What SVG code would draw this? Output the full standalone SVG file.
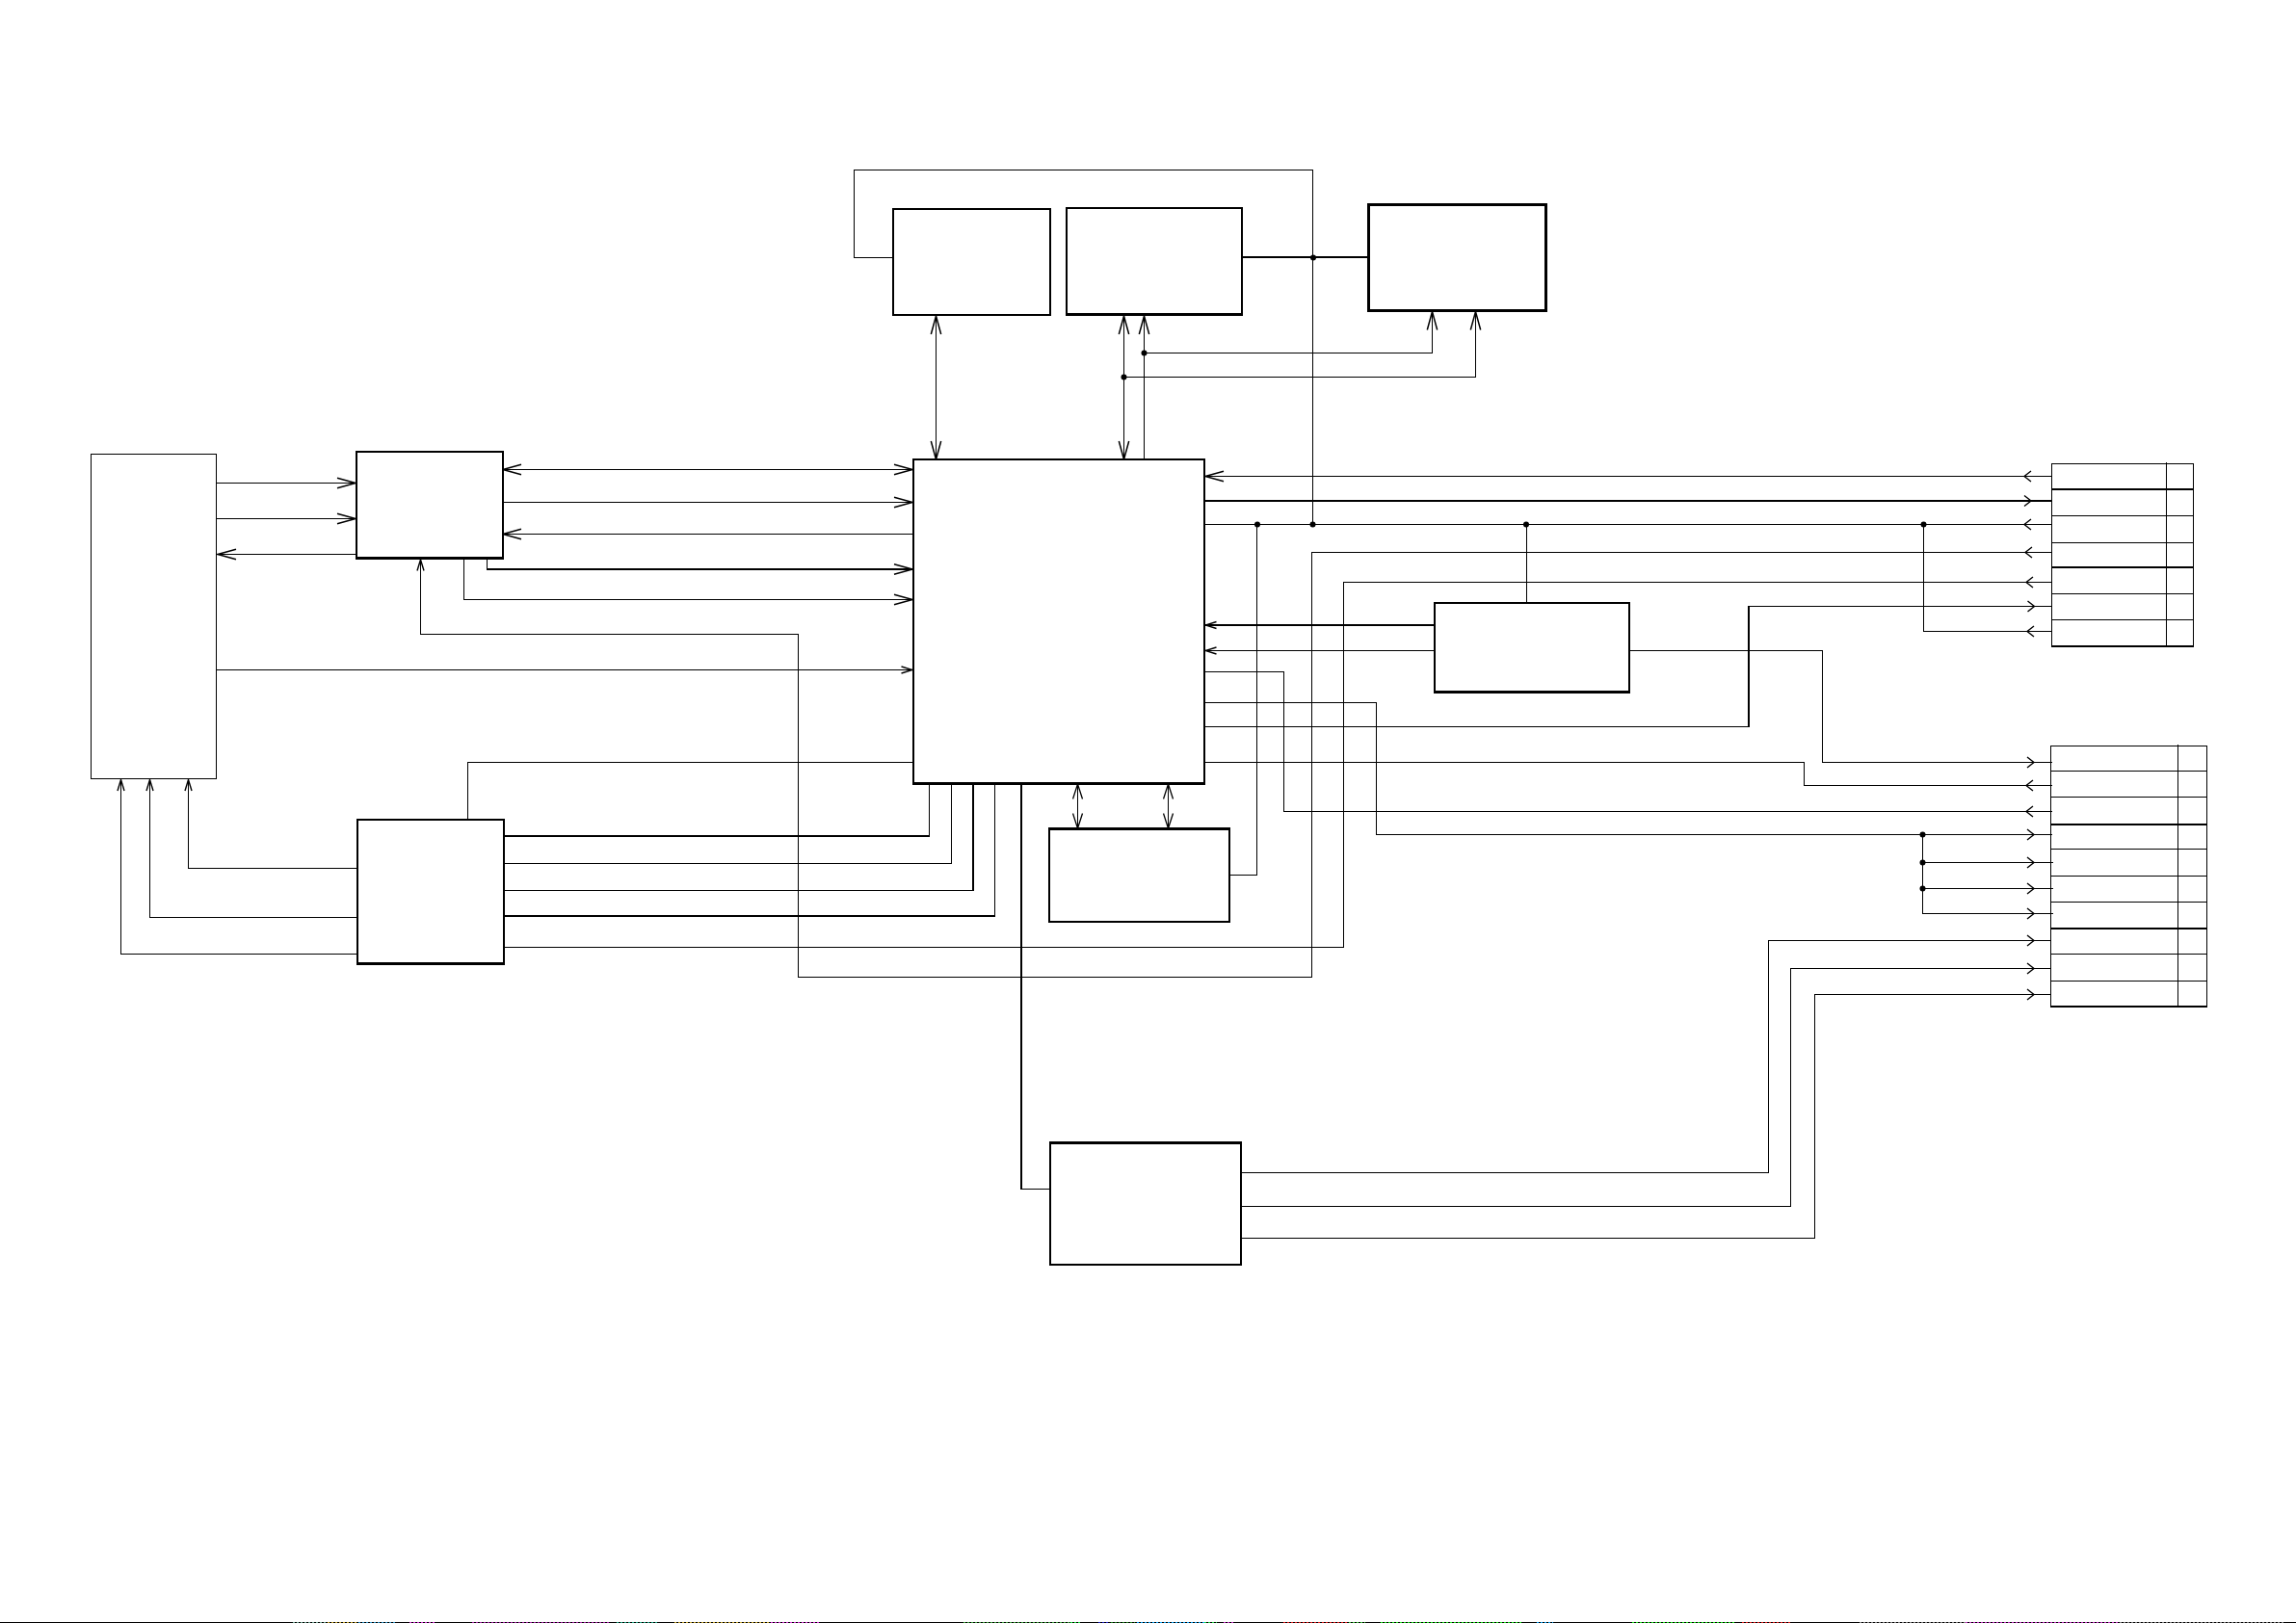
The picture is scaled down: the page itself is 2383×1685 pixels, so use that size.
<svg xmlns="http://www.w3.org/2000/svg" width="2383" height="1685" viewBox="0 0 2383 1685">
<style>
.box{fill:#fff;stroke:#000;stroke-width:2;shape-rendering:crispEdges}
.heavy{fill:#fff;stroke:#000;stroke-width:3;shape-rendering:crispEdges}
.thin{fill:#fff;stroke:#000;stroke-width:1;shape-rendering:crispEdges}
.edge{fill:none;stroke:#000;stroke-width:3;shape-rendering:crispEdges}
.row{fill:none;stroke:#000;stroke-width:1;shape-rendering:crispEdges}
.rowt{fill:none;stroke:#000;stroke-width:2;shape-rendering:crispEdges}
.c{fill:none;stroke:#000;stroke-width:1;shape-rendering:crispEdges}
.t{fill:none;stroke:#000;stroke-width:2;shape-rendering:crispEdges}
.h{fill:none;stroke:#000;stroke-width:1.4}
.d{fill:#000}
.L{marker-end:url(#big)}
.S{marker-end:url(#small)}
.B{marker-start:url(#big);marker-end:url(#big)}
.D{marker-start:url(#mid);marker-end:url(#mid)}
.strip{fill:none;stroke-width:1;stroke-dasharray:2 2;shape-rendering:crispEdges}
</style>
<defs>
<marker id="big" markerUnits="userSpaceOnUse" markerWidth="22" markerHeight="14" refX="20" refY="7" orient="auto-start-reverse"><path d="M1 1.8L20 7L1 12.2" fill="none" stroke="#000" stroke-width="1.5"/></marker>
<marker id="small" markerUnits="userSpaceOnUse" markerWidth="15" markerHeight="10" refX="13" refY="5" orient="auto-start-reverse"><path d="M1.5 1.5L13 5L1.5 8.5" fill="none" stroke="#000" stroke-width="1.4"/></marker>
<marker id="mid" markerUnits="userSpaceOnUse" markerWidth="19" markerHeight="12" refX="17" refY="6" orient="auto-start-reverse"><path d="M1.5 1L17 6L1.5 11" fill="none" stroke="#000" stroke-width="1.3"/></marker>
<path id="hl" class="h" d="M7 -5.5L0 0L7 5.5"/>
<path id="hr" class="h" d="M-7 -5.5L0 0L-7 5.5"/>
</defs>
<rect width="2383" height="1685" fill="#fff"/>

<g id="connectors">
<path class="c L" d="M225 501.5H369"/>
<path class="c L" d="M225 538.5H369"/>
<path class="c L" d="M370 575.5H226"/>
<path class="c S" d="M225 695.5H947"/>
<path class="c B" d="M522 487.5H947"/>
<path class="c L" d="M522 521.5H947"/>
<path class="c L" d="M947 554.5H522"/>
<path class="c" d="M505.5 580V591"/>
<path class="t L" d="M505 591H947"/>
<path class="c L" d="M481.5 580V622.5H947"/>
<path class="c S" d="M2130 573.5H1361.5V1014.5H828.5V658.5H436.5V581"/>
<path class="c" d="M948 791.5H485.5V851"/>
<path class="t" d="M523 868H965"/><path class="c" d="M964.5 868V813"/>
<path class="c" d="M523 896.5H987.5V813"/>
<path class="c" d="M523 924.5H1010"/><path class="t" d="M1010 925V813"/>
<path class="t" d="M523 951H1033"/><path class="c" d="M1032.5 951V813"/>
<path class="c" d="M523 983.5H1394.5V604.5H2130"/>
<path class="c S" d="M371 901.5H195.5V809.5"/>
<path class="c S" d="M371 952.5H155.5V809.5"/>
<path class="c S" d="M371 990.5H125.5V809.5"/>
<path class="c" d="M927 267.5H886.5V176.5H1362.5V544.5"/>
<path class="t" d="M1289 267H1420"/>
<path class="c B" d="M971.5 328V477"/>
<path class="c B" d="M1166.5 328V477"/>
<path class="c L" d="M1187.5 477V328"/>
<path class="c L" d="M1187.5 366.5H1486.5V323.5"/>
<path class="c L" d="M1166.5 391.5H1531.5V323.5"/>
<path class="c L" d="M2130 494.5H1251"/>
<path class="t" d="M1250 520H2130"/>
<path class="c" d="M1250 544.5H2130"/>
<path class="c" d="M1584.5 544.5V626"/>
<path class="c" d="M1996.5 544.5V655.5H2130"/>
<path class="c" d="M1304.5 544.5V908.5H1276"/>
<path class="t S" d="M1489 649H1251"/>
<path class="c S" d="M1489 675.5H1251"/>
<path class="c" d="M1691 675.5H1891.5V791.5H2130"/>
<path class="c" d="M1250 754.5H1815"/><path class="t" d="M1815 755V629"/><path class="c" d="M1815 629.5H2130"/>
<path class="c" d="M1250 697.5H1332.5V842.5H2130"/>
<path class="c" d="M1250 729.5H1428.5V866.5H2130"/>
<path class="c" d="M1250 791.5H1872.5V815.5H2130"/>
<path class="c" d="M1995.5 866.5V948.5H2131"/>
<path class="c" d="M1995.5 895.5H2131"/>
<path class="c" d="M1995.5 922.5H2131"/>
<path class="t" d="M1060 813V1235"/><path class="c" d="M1060 1234.5H1090"/>
<path class="c D" d="M1118.5 814V860"/>
<path class="c D" d="M1212.5 814V860"/>
<path class="c" d="M1288.5 1217.5H1835.5V976.5H2129"/>
<path class="c" d="M1288.5 1252.5H1858.5V1005.5H2129"/>
<path class="c" d="M1288.5 1285.5H1883.5V1032.5H2129"/>
<g id="line-heads">
<use href="#hl" x="2101" y="494.5"/><use href="#hr" x="2108" y="520"/><use href="#hl" x="2101" y="544.5"/><use href="#hl" x="2102" y="573.5"/><use href="#hl" x="2103" y="604.5"/><use href="#hr" x="2111.5" y="629.5"/><use href="#hl" x="2104" y="655.5"/>
<use href="#hr" x="2111" y="791.5"/><use href="#hl" x="2103" y="815.5"/><use href="#hl" x="2103" y="842.5"/><use href="#hr" x="2111" y="866.5"/><use href="#hr" x="2111" y="895.5"/><use href="#hr" x="2111" y="922.5"/><use href="#hr" x="2111" y="948.5"/><use href="#hr" x="2111" y="976.5"/><use href="#hr" x="2111" y="1005.5"/><use href="#hr" x="2111" y="1032.5"/>
</g>
<g id="junctions">
<circle class="d" cx="1363" cy="267.5" r="3"/><circle class="d" cx="1187.5" cy="366.5" r="3"/><circle class="d" cx="1166.5" cy="391.5" r="3"/>
<circle class="d" cx="1305" cy="544.5" r="3"/><circle class="d" cx="1362.5" cy="544.5" r="3"/><circle class="d" cx="1584" cy="544.5" r="3"/><circle class="d" cx="1996.5" cy="544.5" r="3"/>
<circle class="d" cx="1995.5" cy="866.5" r="3"/><circle class="d" cx="1995.5" cy="895.5" r="3"/><circle class="d" cx="1995.5" cy="922.5" r="3"/>
</g>
</g>

<g id="node-left"><rect class="thin" x="94.5" y="471.5" width="130" height="337"/></g>
<g id="node-b2"><rect class="box" x="370" y="469" width="152" height="110"/><path class="edge" d="M369 579.5H523"/></g>
<g id="node-b3"><rect class="box" x="371" y="851" width="152" height="149"/><path class="edge" d="M370 1000.5H524"/></g>
<g id="node-main"><rect class="box" x="948" y="477" width="302" height="336"/><path class="edge" d="M947 813.5H1251"/></g>
<g id="node-a"><rect class="box" x="927" y="217" width="163" height="110"/></g>
<g id="node-b"><rect class="box" x="1107" y="216" width="182" height="110"/><path class="edge" d="M1106 326.5H1290"/></g>
<g id="node-c"><rect class="heavy" x="1420" y="212" width="184" height="110"/></g>
<g id="node-d"><rect class="box" x="1089" y="860" width="187" height="97"/><path class="edge" d="M1088 860.5H1277"/></g>
<g id="node-e"><rect class="box" x="1489" y="626" width="202" height="92"/><path class="edge" d="M1488 718.5H1692"/></g>
<g id="node-f"><rect class="box" x="1090" y="1186" width="198" height="127"/><path class="edge" d="M1089 1186.5H1289"/></g>

<g id="node-conn1">
<rect class="row" x="2129.5" y="481.5" width="147" height="189.5"/>
<path class="row" d="M2248.5 480V671M2129.5 535.5H2277M2129.5 563.5H2277M2129.5 616.5H2277M2129.5 643.5H2277"/>
<path class="rowt" d="M2129 508H2277M2129 589H2277M2129 671H2277"/>
</g>
<g id="node-conn2">
<rect class="row" x="2128.5" y="774.5" width="162" height="270.5"/>
<path class="row" d="M2260.5 773V1045M2128.5 800.5H2290.5M2128.5 827.5H2290.5M2128.5 881.5H2290.5M2128.5 909.5H2290.5M2128.5 936.5H2290.5M2128.5 990.5H2290.5M2128.5 1018.5H2290.5"/>
<path class="rowt" d="M2128 856H2291M2128 964H2291M2128 1045H2291"/>
</g>

<g id="scan-strip">
<path d="M0 1684.5H2383" stroke="#000" stroke-width="1" fill="none" shape-rendering="crispEdges"/>
<path class="strip" stroke="#7a9" d="M304 1684.5H340"/>
<path class="strip" stroke="#ca3" d="M340 1684.5H372"/>
<path class="strip" stroke="#39c" d="M372 1684.5H410"/>
<path class="strip" stroke="#d3d" d="M425 1684.5H452"/>
<path class="strip" stroke="#a2a" d="M490 1684.5H632"/>
<path class="strip" stroke="#2a8" d="M640 1684.5H682"/>
<path class="strip" stroke="#ca3" d="M700 1684.5H800"/>
<path class="strip" stroke="#d3d" d="M800 1684.5H850"/>
<path class="strip" stroke="#4a4" d="M1000 1684.5H1110"/>
<path class="strip" stroke="#2e4" d="M1111 1684.5H1123"/>
<path class="strip" stroke="#22c" d="M1140 1684.5H1152"/>
<path class="strip" stroke="#282" d="M1153 1684.5H1178"/>
<path class="strip" stroke="#1af" d="M1180 1684.5H1250"/>
<path class="strip" stroke="#2d4" d="M1250 1684.5H1263"/>
<path class="strip" stroke="#c3c" d="M1270 1684.5H1282"/>
<path class="strip" stroke="#e22" d="M1332 1684.5H1398"/>
<path class="strip" stroke="#4c4" d="M1400 1684.5H1417"/>
<path class="strip" stroke="#2e2" d="M1433 1684.5H1580"/>
<path class="strip" stroke="#1af" d="M1595 1684.5H1612"/>
<path class="strip" stroke="#2e2" d="M1694 1684.5H1800"/>
<path class="strip" stroke="#e22" d="M1808 1684.5H1860"/>
<path class="strip" stroke="#888" d="M1930 1684.5H2040"/>
<path class="strip" stroke="#c3c" d="M2040 1684.5H2200"/>
<path class="strip" stroke="#888" d="M2200 1684.5H2370"/>
</g>
</svg>
